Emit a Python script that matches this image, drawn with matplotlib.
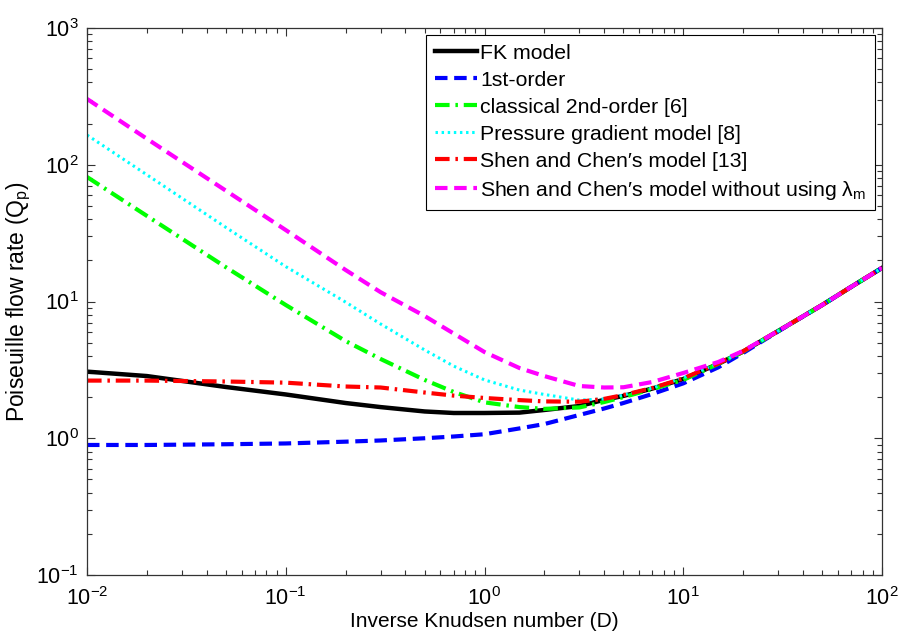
import matplotlib
matplotlib.use("Agg")
import matplotlib.pyplot as plt
from matplotlib.ticker import LogLocator, NullFormatter

plt.rcParams['font.family'] = ['Liberation Sans', 'DejaVu Sans']
plt.rcParams['mathtext.fontset'] = 'custom'
plt.rcParams['mathtext.rm'] = 'Liberation Sans'
plt.rcParams['mathtext.it'] = 'Liberation Sans'

# Inverse Knudsen number D
D = [0.01, 0.02, 0.05, 0.1, 0.2, 0.3, 0.5, 0.7, 1, 1.5, 2, 3, 4, 5, 7, 10,
     15, 20, 30, 50, 70, 100]

fk_model = [3.07, 2.85, 2.37, 2.09, 1.81, 1.69, 1.57, 1.53, 1.53, 1.54, 1.61,
            1.72, 1.91, 2.04, 2.31, 2.71, 3.50, 4.30, 6.08, 9.43, 12.8, 17.6]
first_order = [0.893, 0.893, 0.904, 0.916, 0.944, 0.963, 1.00, 1.03, 1.07, 1.18,
               1.27, 1.48, 1.65, 1.81, 2.11, 2.52, 3.30, 4.20, 6.04, 9.43, 12.8, 17.6]
classical_2nd = [81.4, 42.3, 17.8, 9.43, 5.14, 3.80, 2.67, 2.18, 1.83, 1.69, 1.64,
                 1.68, 1.84, 2.00, 2.29, 2.67, 3.50, 4.30, 6.08, 9.43, 12.8, 17.6]
pressure_gradient = [165, 84.5, 34.8, 18.0, 9.9, 6.85, 4.42, 3.37, 2.67, 2.25, 2.09,
                     1.90, 1.94, 2.07, 2.33, 2.76, 3.52, 4.32, 6.08, 9.43, 12.8, 17.6]
shen_chen = [2.64, 2.64, 2.60, 2.55, 2.39, 2.35, 2.16, 2.05, 1.97, 1.90, 1.86,
             1.85, 1.94, 2.07, 2.33, 2.74, 3.52, 4.32, 6.08, 9.43, 12.8, 17.6]
shen_chen_no_lm = [303, 155, 64.6, 33.3, 17.0, 11.7, 7.83, 5.83, 4.27, 3.26, 2.85,
                   2.41, 2.35, 2.36, 2.58, 3.00, 3.61, 4.35, 6.08, 9.43, 12.8, 17.6]

labels = ["FK model", "1st-order", "classical 2nd-order [6]",
          "Pressure gradient model [8]", "Shen and Chen\u2032s model [13]",
          "Shen and Chen\u2032s model without using $\\lambda_{\\rm m}$"]

fig = plt.figure(figsize=(8.99, 6.36), dpi=100)
ax = fig.add_axes([87/899, 1-575/636, (882-87)/899, (575-28)/636])

ax.plot(D, fk_model, color='black', lw=3.2, ls='-', label=labels[0])
ax.plot(D, first_order, color='#0000ff', lw=3.0, ls=(0, (3.0, 1.6)), label=labels[1])
ax.plot(D, classical_2nd, color='#00ff00', lw=3.0, ls=(0, (3.5, 1.4, 0.6, 1.4)), label=labels[2])
ax.plot(D, pressure_gradient, color='#00ffff', lw=2.2, ls=(0, (0.8, 1.2)), label=labels[3])
ax.plot(D, shen_chen, color='#ff0000', lw=3.0, ls=(0, (3.5, 1.4, 0.6, 1.4)), label=labels[4])
ax.plot(D, shen_chen_no_lm, color='#ff00ff', lw=3.0, ls=(0, (3.0, 1.6)), label=labels[5])

ax.set_xscale('log')
ax.set_yscale('log')
ax.set_xlim(1e-2, 1e2)
ax.set_ylim(1e-1, 1e3)

ax.xaxis.set_major_locator(LogLocator(base=10, numticks=10))
ax.yaxis.set_major_locator(LogLocator(base=10, numticks=10))
ax.xaxis.set_minor_locator(LogLocator(base=10, subs=range(2, 10), numticks=20))
ax.yaxis.set_minor_locator(LogLocator(base=10, subs=range(2, 10), numticks=20))
ax.xaxis.set_minor_formatter(NullFormatter())
ax.yaxis.set_minor_formatter(NullFormatter())

ax.tick_params(which='both', direction='in', top=True, right=True, color='#333333')
ax.tick_params(which='major', length=6, width=0.8, labelsize=15.5)
ax.tick_params(axis='x', which='major', pad=9)
ax.tick_params(axis='y', which='major', pad=6)
ax.tick_params(which='minor', length=3.5, width=0.8)
for s in ax.spines.values():
    s.set_color('#333333')
    s.set_linewidth(0.9)

ax.set_xlabel("Inverse Knudsen number (D)", fontsize=15, labelpad=1)
ax.set_ylabel("Poiseuille flow rate (Q$_{\\rm p}$)", fontsize=16.5, labelpad=2)

leg = ax.legend(loc='upper right', fontsize=15.3, frameon=True, fancybox=False,
                edgecolor='black', framealpha=1, handlelength=2.0,
                handletextpad=0.15, borderpad=0.4, labelspacing=0.38,
                borderaxespad=0.33)
leg.get_frame().set_linewidth(0.8)

fig.savefig("out.png", dpi=100)
